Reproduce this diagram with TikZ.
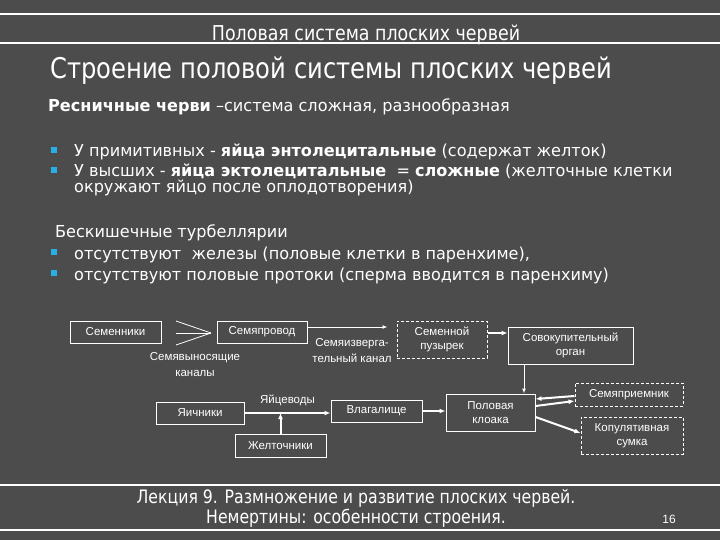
\documentclass[tikz,border=0pt]{standalone}
\usepackage{fontspec}
\setmainfont{Liberation Sans}
\newfontfamily\slidefont[FakeStretch=0.85]{DejaVu Sans}
\newfontfamily\bodyfont[FakeStretch=0.975]{DejaVu Sans}
\usetikzlibrary{arrows.meta, positioning, calc}
\definecolor{slidebg}{RGB}{76,76,76}
\definecolor{bulletblue}{RGB}{40,176,230}

\begin{document}
\begin{tikzpicture}[x=1pt, y=-1pt,
    box/.style={rectangle, draw=white, line width=1pt, text=white, align=center, inner sep=0pt, font=\fontsize{11.5}{14}\selectfont},
    dbox/.style={box, dash pattern=on 3pt off 2pt},
    lbl/.style={text=white, align=center, inner sep=0pt, font=\fontsize{11.5}{16.5}\selectfont},
    body/.style={text=white, anchor=base west, inner sep=0pt, align=left, font=\bodyfont\fontsize{16.5}{16.5}\selectfont},
    bullet/.style={fill=bulletblue, minimum size=6pt, inner sep=0pt},
    thin arr/.style={draw=white, line width=1pt, -{Latex[length=5pt,width=4pt]}},
    thick arr/.style={draw=white, line width=2pt, -{Latex[length=6pt,width=5pt]}}
]
    % slide background and rules
    \fill[slidebg] (0,0) rectangle (720,540);
    \useasboundingbox (0,0) rectangle (720,540);
    \foreach \y in {14,43,485,530}
        \draw[white, line width=1.2pt] (0,\y) -- (720,\y);

    % header and title
    \node[text=white, anchor=base, inner sep=0pt, font=\slidefont\fontsize{20.5}{22}\selectfont] (header) at (366,41) {Половая система плоских червей};
    \node[text=white, anchor=base west, inner sep=0pt, font=\slidefont\fontsize{28.5}{32}\selectfont] (title) at (50,79) {Строение половой системы плоских червей};

    % text part
    \node[body] (resnichnye) at (48,112) {\textbf{Ресничные черви} –система сложная, разнообразная};
    \node[bullet] (b1) at (54,150) {};
    \node[body] (primitiv) at (74,157) {У примитивных - \textbf{яйца энтолецитальные} (содержат желток)};
    \node[bullet] (b2) at (54,170) {};
    \node[body] (vysshie) at (74,193) {У высших - \textbf{яйца эктолецитальные} \ = \textbf{сложные} (желточные клетки\\окружают яйцо после оплодотворения)};
    \node[body] (beskish) at (55,237) {Бескишечные турбеллярии};
    \node[bullet] (b3) at (54,252) {};
    \node[body] (zhelezy) at (74,259) {отсутствуют \ железы (половые клетки в паренхиме),};
    \node[bullet] (b4) at (54,273) {};
    \node[body] (protoki) at (74,280) {отсутствуют половые протоки (сперма вводится в паренхиму)};

    % male part
    \node[box, minimum width=91pt, minimum height=22pt] (semenniki) at (115.5,332) {Семенники};
    \node[box, minimum width=90pt, minimum height=22pt] (semyaprovod) at (262,332) {Семяпровод};
    \node[dbox, minimum width=90pt, minimum height=37pt] (puzyrek) at (442,339.5) {Семенной\\пузырек};
    \node[box, minimum width=125pt, minimum height=37pt] (sovok) at (570.5,345.5) {Совокупительный\\орган};
    \node[lbl] (vynos) at (195,364.5) {Семявыносящие\\каналы};
    \node[lbl] (izverg) at (352,350.5) {Семяизверга-\\тельный канал};

    % fan of efferent ducts
    \coordinate (fanA) at (176,321);
    \coordinate (fanB) at (176,333);
    \coordinate (fanC) at (176,345);
    \coordinate (apex) at (211,333);
    \foreach \f in {fanA,fanB,fanC}
        \draw[white, line width=0.8pt] (\f) -- (apex);

    % female part
    \node[box, minimum width=88pt, minimum height=22pt] (yaich) at (200,413) {Яичники};
    \node[box, minimum width=91pt, minimum height=23pt] (zhelt) at (280.5,445.5) {Желточники};
    \node[box, minimum width=91pt, minimum height=22pt] (vlag) at (376.5,411) {Влагалище};
    \node[box, minimum width=89pt, minimum height=37pt] (kloaka) at (490.5,412.5) {Половая\\клоака};
    \node[dbox, minimum width=108pt, minimum height=23pt] (semyapr) at (629,394.5) {Семяприемник};
    \node[dbox, minimum width=102pt, minimum height=37pt] (kopul) at (632,435.5) {Копулятивная\\сумка};

    % connectors
    \draw[thin arr] ([yshift=5pt]semyaprovod.east) -- ([xshift=-9pt, yshift=12.5pt]puzyrek.west);
    \draw[thick arr] ([yshift=6.5pt]puzyrek.east) -- ([yshift=12.5pt]sovok.west);
    \draw[thin arr] ([xshift=-46.5pt]sovok.south) -- ([xshift=33.5pt]kloaka.north);
    \draw[thick arr] (yaich.east) -- node[lbl, above=6pt] (yaicevody) {Яйцеводы} (yaich.east -| vlag.west);
    \draw[thick arr] (zhelt.north) -- (zhelt.north |- yaich.east);
    \draw[thick arr] (vlag.east) -- (vlag.east -| kloaka.west);
    \draw[thick arr] ([yshift=-1.5pt]semyapr.west) -- ([yshift=13.5pt]kloaka.east);
    \draw[thick arr] ([yshift=6.5pt]kloaka.east) -- ([yshift=-6.5pt]semyapr.west);
    \draw[thick arr] ([yshift=-4.5pt]kloaka.east) -- ([yshift=2.5pt]kopul.west);

    % footer
    \node[text=white, align=center, inner sep=0pt, anchor=base, font=\slidefont\fontsize{18.5}{20}\selectfont] (footer) at (356,523) {Лекция 9. Размножение и развитие плоских червей.\\Немертины: особенности строения.};
    \node[text=white, anchor=base, inner sep=0pt, font=\fontsize{12}{14}\selectfont] (pagenum) at (669,523) {16};
\end{tikzpicture}
\end{document}
